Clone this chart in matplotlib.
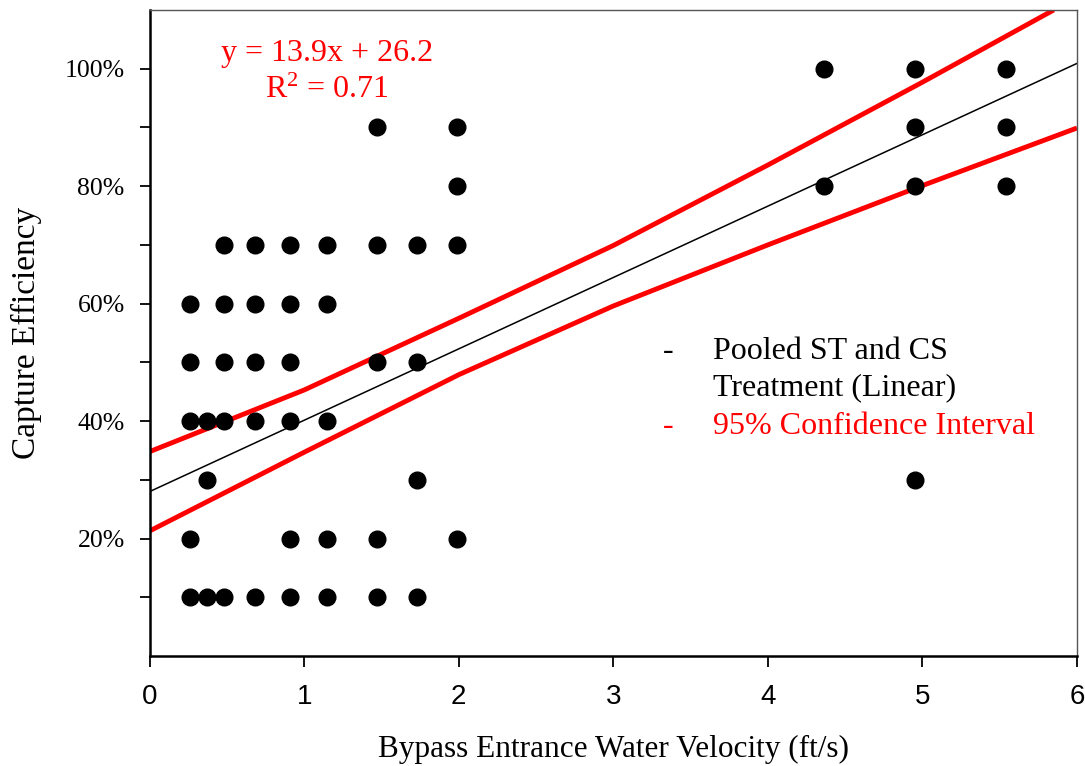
import numpy as np
import matplotlib.pyplot as plt
from matplotlib.ticker import FixedLocator, FuncFormatter

# Observed capture efficiency (%) against bypass entrance water velocity (ft/s)
velocity = [4.36, 4.95, 5.54,
            1.47, 1.99, 4.95, 5.54,
            1.99, 4.36, 4.95, 5.54,
            0.48, 0.68, 0.91, 1.15, 1.47, 1.73, 1.99,
            0.26, 0.48, 0.68, 0.91, 1.15,
            0.26, 0.48, 0.68, 0.91, 1.47, 1.73,
            0.26, 0.37, 0.48, 0.68, 0.91, 1.15,
            0.37, 1.73, 4.95,
            0.26, 0.91, 1.15, 1.47, 1.99,
            0.26, 0.37, 0.48, 0.68, 0.91, 1.15, 1.47, 1.73]
efficiency = [100, 100, 100,
              90, 90, 90, 90,
              80, 80, 80, 80,
              70, 70, 70, 70, 70, 70, 70,
              60, 60, 60, 60, 60,
              50, 50, 50, 50, 50, 50,
              40, 40, 40, 40, 40, 40,
              30, 30, 30,
              20, 20, 20, 20, 20,
              10, 10, 10, 10, 10, 10, 10, 10]

# Fitted line and 95% confidence band
fit_x = [0, 6]
fit_y = [28.0, 100.9]
upper_x = [0, 1, 2, 3, 4, 5, 5.85]
upper_y = [34.8, 45.3, 57.5, 69.9, 83.6, 97.7, 110.0]
lower_x = [0, 1, 2, 3, 4, 5, 6]
lower_y = [21.3, 34.7, 47.9, 59.6, 70.0, 80.1, 89.9]

equation = 'y = 13.9x + 26.2'
r_squared = 'R$^2$ = 0.71'

plt.rcParams['font.family'] = ['Liberation Serif', 'DejaVu Serif']
plt.rcParams['mathtext.fontset'] = 'custom'
plt.rcParams['mathtext.rm'] = 'Liberation Serif'
plt.rcParams['mathtext.it'] = 'Liberation Serif'

fig = plt.figure(figsize=(10.85, 7.66), dpi=100)
ax = fig.add_axes([0.138, 0.1436, 0.8546, 0.8434])

ax.plot(velocity, efficiency, 'o', color='black', markersize=12, zorder=3)
ax.plot(fit_x, fit_y, color='black', linewidth=1.1, zorder=2)
ax.plot(upper_x, upper_y, color='red', linewidth=3.5, solid_capstyle='butt', zorder=2)
ax.plot(lower_x, lower_y, color='red', linewidth=3.5, solid_capstyle='butt', zorder=2)

ax.set_xlim(0, 6)
ax.set_ylim(0, 110)

# Axis ticks
ax.set_xticks(range(7))
ax.set_xticklabels([str(i) for i in range(7)], family=['Liberation Sans Narrow', 'Liberation Sans'], fontsize=20)
ax.yaxis.set_major_locator(FixedLocator([20, 40, 60, 80, 100]))
ax.yaxis.set_minor_locator(FixedLocator([10, 30, 50, 70, 90]))
ax.yaxis.set_major_formatter(FuncFormatter(lambda v, p: '%d%%' % v))
ax.tick_params(axis='x', direction='out', length=8, width=1.3, pad=12)
ax.tick_params(axis='y', which='both', direction='out', length=7, width=1.3, pad=11, labelsize=18.5)

for side in ['left', 'bottom']:
    ax.spines[side].set_linewidth(1.8)
for side in ['top', 'right']:
    ax.spines[side].set_linewidth(1.0)
    ax.spines[side].set_color('#555555')

ax.set_xlabel('Bypass Entrance Water Velocity (ft/s)', fontsize=22.5, labelpad=18)
ax.set_ylabel('Capture Efficiency', fontsize=24, labelpad=16)

# Regression equation
ax.text(0.191, 0.933, equation, transform=ax.transAxes, color='red', fontsize=23, ha='center', va='center')
ax.text(0.191, 0.876, r_squared, transform=ax.transAxes, color='red', fontsize=23, ha='center', va='center')

# Legend written as text
ax.text(0.559, 0.4706, '-', transform=ax.transAxes, color='black', fontsize=23, ha='center', va='center')
ax.text(0.608, 0.4706, 'Pooled ST and CS', transform=ax.transAxes, color='black', fontsize=23, va='center')
ax.text(0.608, 0.415, 'Treatment (Linear)', transform=ax.transAxes, color='black', fontsize=23, va='center')
ax.text(0.559, 0.356, '-', transform=ax.transAxes, color='red', fontsize=23, ha='center', va='center')
ax.text(0.608, 0.356, '95% Confidence Interval', transform=ax.transAxes, color='red', fontsize=23, va='center')

plt.savefig('out.png', dpi=100)
plt.close()
